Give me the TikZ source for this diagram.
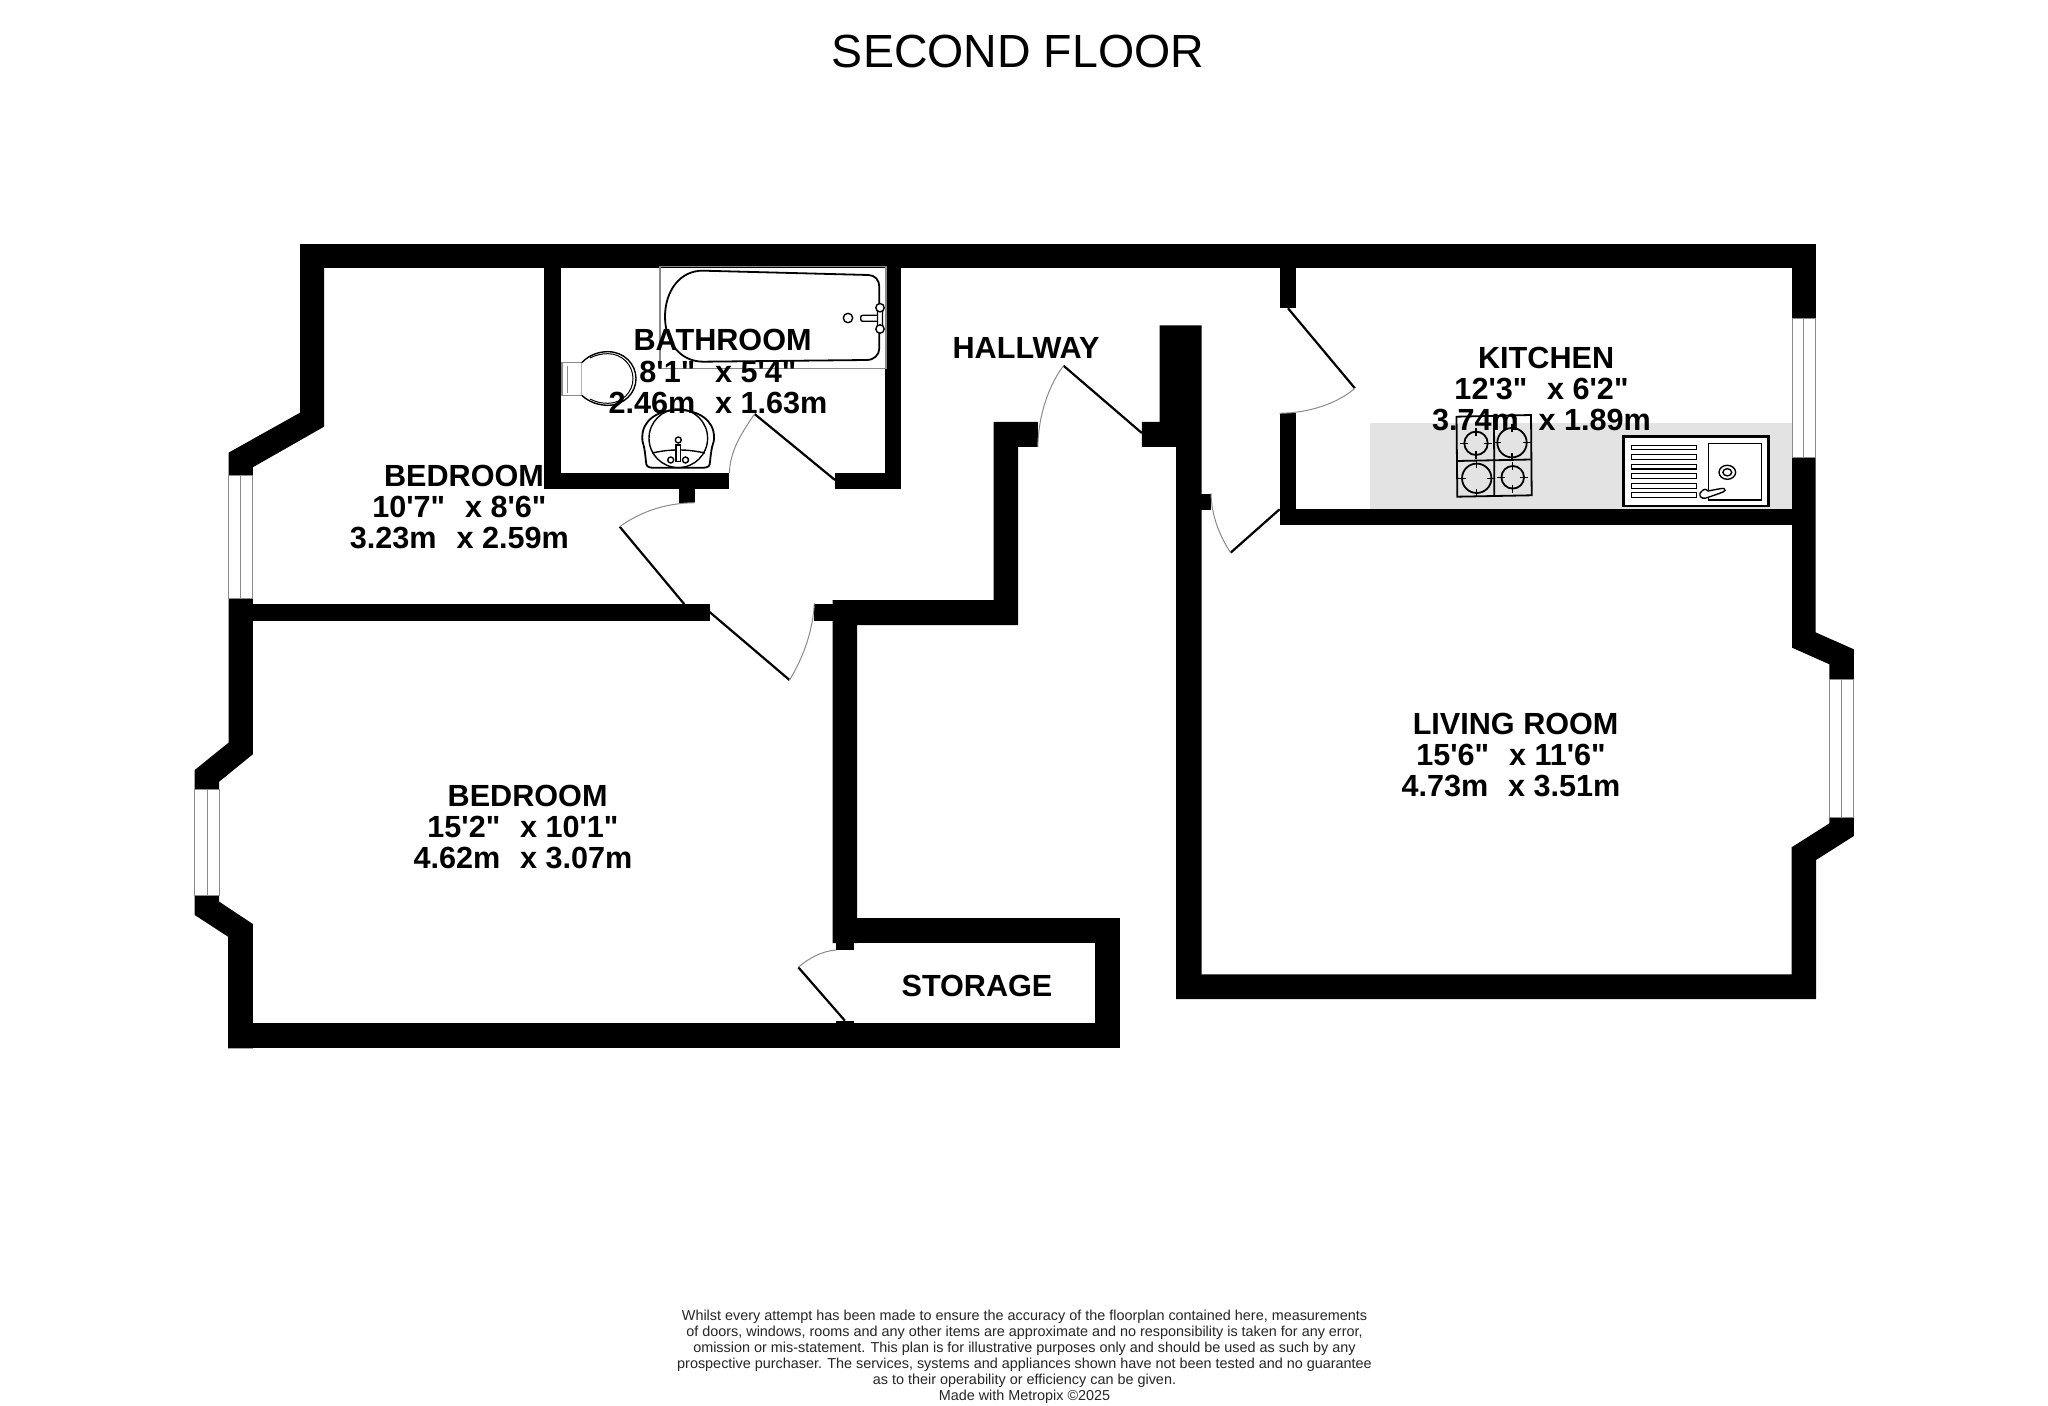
\documentclass[tikz,border=0pt]{standalone}
\usepackage{fontspec}
\newfontfamily\planfont{Liberation Sans}
\definecolor{counter}{HTML}{E3E3E3}
\definecolor{thin}{HTML}{8A8A8A}
\newcommand{\gapx}{\hspace{0.65em}}
\newcommand{\headshift}{\hspace*{0.3em}}
\tikzset{
  wall/.style={fill=black,draw=none},
  windowpane/.style={fill=white,draw=thin,line width=0.5pt},
  leaf/.style={draw=black,line width=1.1pt},
  swing/.style={draw=thin,line width=0.5pt},
  fixline/.style={draw=black,line width=0.7pt},
  roomlabel/.style={font=\fontsize{15.3}{15.6}\selectfont\planfont\bfseries,align=center,inner sep=0pt},
  hallabel/.style={font=\fontsize{15.3}{15.6}\selectfont\planfont\bfseries,inner sep=0pt},
  titlelabel/.style={font=\fontsize{23.25}{28}\selectfont\planfont,inner sep=0pt},
  notelabel/.style={font=\fontsize{7.2}{8}\selectfont\planfont,align=center,inner sep=0pt,text=black!85}
}
\begin{document}
\begin{tikzpicture}[x=0.5pt,y=-0.5pt]
\useasboundingbox (0,0) rectangle (2048,1406);
\fill[white] (0,0) rectangle (2048,1406);
% counter
\fill[counter] (1370.2,423.3) rectangle (1792,508.7);
% walls
\fill[wall] (300,244) rectangle (1815.5,268.3);
\fill[wall] (300,268) -- (324,268) -- (324,426.7) -- (252.8,467.3) -- (252.8,475) -- (228.5,475) -- (228.5,452.7) -- (300,412.7) -- cycle;
\fill[wall] (544.4,268) rectangle (561,489.3);
\fill[wall] (544.4,473.3) rectangle (729.4,489.3);
\fill[wall] (678.9,489.3) rectangle (695,502.7);
\fill[wall] (835,473.3) rectangle (901,489.3);
\fill[wall] (884.6,268) rectangle (901,489.3);
\fill[wall] (228.5,598.3) -- (252.8,598.3) -- (252.8,754.3) -- (219.2,781.7) -- (219.2,789) -- (194.7,789) -- (194.7,770) -- (228.5,742.7) -- cycle;
\fill[wall] (252,604.3) rectangle (709.6,621);
\fill[wall] (194.7,895.3) -- (219.2,895.3) -- (219.2,901.7) -- (252.8,924) -- (252.8,1048.3) -- (228,1048.3) -- (228,936.7) -- (194.7,915) -- cycle;
\fill[wall] (228,1023.3) rectangle (1119.8,1048.3);
\fill[wall] (832.7,918.3) rectangle (1119.8,943.3);
\fill[wall] (1095.3,918.3) rectangle (1119.8,1048.3);
\fill[wall] (836.3,943) rectangle (853.5,950);
\fill[wall] (836.3,1020.7) rectangle (853.5,1023.3);
\fill[wall] (814.3,604.3) rectangle (833,621);
\fill[wall] (832.7,600) -- (993.7,600) -- (993.7,422) -- (1037.8,422) -- (1037.8,447) -- (1018.2,447) -- (1018.2,625) -- (857,625) -- (857,943) -- (832.7,943) -- cycle;
\fill[wall] (1159.7,325.3) -- (1201.5,325.3) -- (1201.5,974.3) -- (1791.6,974.3) -- (1791.6,847.3) -- (1829.4,823.3) -- (1829.4,817.3) -- (1853.8,817.3) -- (1853.8,836) -- (1816,860) -- (1816,999) -- (1176,999) -- (1176,447) -- (1141.8,447) -- (1141.8,422) -- (1159.7,422) -- cycle;
\fill[wall] (1201,494) rectangle (1211,510);
\fill[wall] (1279.6,268) rectangle (1296.2,308.3);
\fill[wall] (1279.6,413.3) rectangle (1296.2,525);
\fill[wall] (1279.6,508.7) rectangle (1792,525);
\fill[wall] (1792,268) rectangle (1815.5,319);
\fill[wall] (1792,457.3) -- (1815.5,457.3) -- (1815.5,632.3) -- (1853.8,649.3) -- (1853.8,679) -- (1829.4,679) -- (1829.4,664.3) -- (1792,647.7) -- cycle;
% windows
\draw[windowpane] (228.5,475) rectangle (252.8,598.3) (240.6,475) -- (240.6,598.3);
\draw[windowpane] (194.7,789) rectangle (219.2,895.3) (207,789) -- (207,895.3);
\draw[windowpane] (1792,319) rectangle (1815.5,457.3) (1803.7,319) -- (1803.7,457.3);
\draw[windowpane] (1829.4,679) rectangle (1853.8,817.3) (1841.6,679) -- (1841.6,817.3);
% doors: leaf and swing
\draw[leaf] (835,480) -- (754.6,414);
\draw[swing] (754.6,414) .. controls (740,435) and (730,452) .. (729.4,473);
\draw[leaf] (684.4,604.3) -- (619.7,526.7);
\draw[swing] (619.7,526.7) .. controls (640,512) and (665,503) .. (695,502.7);
\draw[leaf] (709.6,612) -- (789.5,680);
\draw[swing] (789.5,680) .. controls (802,660) and (813,632) .. (814.3,603.3);
\draw[leaf] (1141.8,433) -- (1063.5,365.7);
\draw[swing] (1063.5,365.7) .. controls (1049,385) and (1038.3,415) .. (1037.8,446.7);
\draw[leaf] (1288,308.3) -- (1354.9,388.3);
\draw[swing] (1354.9,388.3) .. controls (1338,403) and (1310,413) .. (1279.6,413.3);
\draw[leaf] (1279.6,509.3) -- (1230.6,552.7);
\draw[swing] (1230.6,552.7) .. controls (1219,535) and (1211.4,515) .. (1211,493.3);
\draw[leaf] (844.9,1020.7) -- (798.3,967.3);
\draw[swing] (798.3,967.3) .. controls (809,958) and (822,951) .. (836.3,950);
% bath
\draw[draw=thin,line width=0.6pt] (660,266.7) rectangle (886,368.3);
\draw[fixline,line width=0.9pt] (703.3,270.7) -- (868.3,275) .. controls (875,275.2) and (879.3,280) .. (879.3,286.7) -- (879.3,348.3) .. controls (879.3,355) and (874,360) .. (866.7,360) -- (703.3,361.7) .. controls (680,361.7) and (665,342) .. (665,316.7) .. controls (665,291) and (680,270.2) .. (703.3,270.7) -- cycle;
\draw[fixline] (848,318) circle[radius=4.7];
\draw[fixline,fill=white,rounded corners=1pt] (860.7,315.3) rectangle (880,321.3);
\draw[fixline,fill=white,rounded corners=1pt] (877.5,307.7) rectangle (882.5,329);
\draw[fixline,fill=white] (880,307.7) circle[radius=4.2] (880,329) circle[radius=4.2];
% toilet
\draw[draw=thin,line width=0.6pt,fill=white] (562,362.7) -- (581.7,362.7) -- (581.7,395.3) -- (562,395.3) -- cycle;
\draw[draw=thin,line width=0.6pt] (567.3,366) -- (567.3,392.7);
\draw[fixline,fill=white] (581.7,362.7) .. controls (590,354) and (600,351.7) .. (608,351.7) .. controls (624,351.7) and (636,364) .. (636,378.7) .. controls (636,393) and (624,405.3) .. (608,405.3) .. controls (600,405.3) and (590,403) .. (581.7,395.3);
\draw[fixline,line width=0.5pt] (590,358) .. controls (597,354.5) and (602,353.7) .. (608,353.7) .. controls (622,353.7) and (633,365) .. (633,378.7) .. controls (633,392) and (622,403.3) .. (608,403.3) .. controls (602,403.3) and (597,402.5) .. (590,399);
% basin
\draw[fixline,line width=0.9pt,fill=white] (646,462) .. controls (644,440) and (642.3,446) .. (642.3,437) .. controls (642.3,420) and (658,410) .. (678.3,410) .. controls (698,410) and (714,420) .. (714,437) .. controls (714,446) and (712,440) .. (710,462) .. controls (710,466) and (708,467.5) .. (704,467.7) -- (652,467.7) .. controls (648,467.5) and (646,466) .. (646,462) -- cycle;
\draw[fixline] (678.3,438.3) circle[radius=29.3];
\draw[fixline] (652,453) .. controls (662,451) and (668,450) .. (678.3,450) .. controls (689,450) and (695,451) .. (705,453);
\draw[fixline,fill=white] (678.3,440) circle[radius=3];
\draw[fixline,fill=white] (676,445) rectangle (680.7,461.7);
\draw[fixline,fill=white] (670.7,460) circle[radius=3] (685.5,460) circle[radius=3];
% hob
\draw[fixline,line width=0.9pt] (1456.5,416.7) -- (1531,415) -- (1531.7,495.3) -- (1457.3,496.7) -- cycle;
\draw[fixline,line width=0.9pt] (1457,461) -- (1531.3,459.5) (1494,416) -- (1494.3,496);
\foreach \cx/\cy/\cr in {1476/443.3/11.7,1512/442.7/14.7,1476.7/478.3/14.7,1512.7/477.3/11.3}{
  \draw[fixline,line width=0.9pt] (\cx,\cy) circle[radius=\cr];
  \draw[fixline] (\cx-\cr-4,\cy) -- (\cx-\cr+4,\cy) (\cx+\cr-4,\cy) -- (\cx+\cr+4,\cy) (\cx,\cy-\cr-4) -- (\cx,\cy-\cr+4) (\cx,\cy+\cr-4) -- (\cx,\cy+\cr+4);
}
% sink
\draw[draw=black,line width=1.2pt,fill=white] (1623.3,436.7) rectangle (1768.3,505.7);
\draw[fixline] (1708.7,443.3) rectangle (1761.3,500);
\foreach \gy in {445.3,454.7,464.3,473.7,483.3,492.7}{
  \draw[fixline,line width=0.5pt] (1631.3,\gy) rectangle (1696,\gy+4.7);
}
\draw[fixline] (1727.3,472.3) ellipse[x radius=8.3,y radius=7] (1727.3,472.3) ellipse[x radius=4.4,y radius=3.6];
\draw[fixline,fill=white] (1700,493) .. controls (1704,488) and (1706,489) .. (1708,491) .. controls (1714,490) and (1722,488) .. (1724,488.5) .. controls (1726,490) and (1725,491) .. (1723,492) .. controls (1718,494) and (1712,496) .. (1706,498) .. controls (1702,499) and (1699,497) .. (1700,493) -- cycle;
% labels
\node[titlelabel] (title) at (1018,51) {SECOND FLOOR};
\node[roomlabel] (bedone) at (459.4,507) {\headshift BEDROOM\\10'7"\gapx x 8'6"\\3.23m\gapx x 2.59m};
\node[roomlabel] (bath) at (718,371.5) {\headshift BATHROOM\\8'1"\gapx x 5'4"\\2.46m\gapx x 1.63m};
\node[hallabel] (hall) at (1026,347.5) {HALLWAY};
\node[roomlabel] (kitchen) at (1541.5,389) {\headshift KITCHEN\\12'3"\gapx x 6'2"\\3.74m\gapx x 1.89m};
\node[roomlabel] (bedtwo) at (523,827) {\headshift BEDROOM\\15'2"\gapx x 10'1"\\4.62m\gapx x 3.07m};
\node[roomlabel] (living) at (1511,755) {\headshift LIVING ROOM\\15'6"\gapx x 11'6"\\4.73m\gapx x 3.51m};
\node[hallabel] (storage) at (977,986) {STORAGE};
\node[notelabel] (note) at (1024.5,1357) {Whilst every attempt has been made to ensure the accuracy of the floorplan contained here, measurements\\of doors, windows, rooms and any other items are approximate and no responsibility is taken for any error,\\omission or mis-statement. This plan is for illustrative purposes only and should be used as such by any\\prospective purchaser. The services, systems and appliances shown have not been tested and no guarantee\\as to their operability or efficiency can be given.\\Made with Metropix ©2025};
\end{tikzpicture}
\end{document}
